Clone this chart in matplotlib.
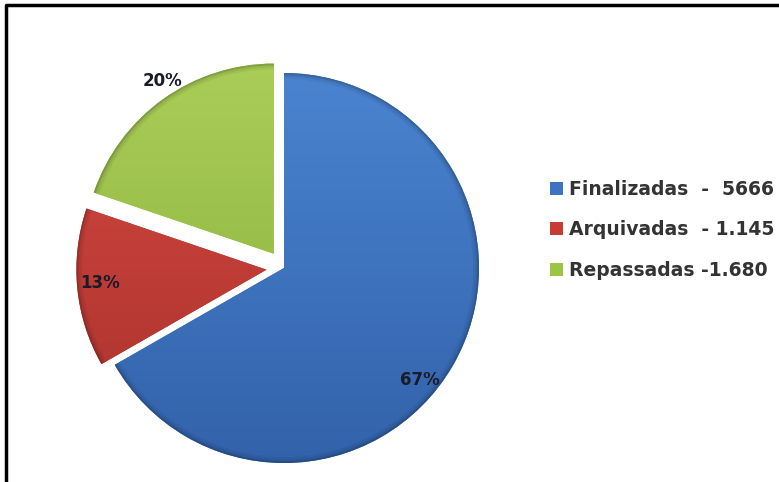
import matplotlib.pyplot as plt
from matplotlib.patches import Wedge
from matplotlib.colors import to_rgb
import numpy as np

categorias = ['Finalizadas', 'Arquivadas', 'Repassadas']
totais = [5666, 1145, 1680]
rotulos_legenda = ['Finalizadas  -  5666', 'Arquivadas  - 1.145', 'Repassadas -1.680']
cores = ['#3c74c2', '#c83a34', '#9cc445']
cores_topo = ['#4a84d0', '#d44a40', '#aacd58']
cores_base = ['#3262aa', '#a8302c', '#88b03a']
afastamento = [0.0, 0.09, 0.09]

# figure in pixel units so the pie can be placed directly
W, H = 779, 482
fig = plt.figure(figsize=(W / 100, H / 100), dpi=100)
ax = fig.add_axes([0, 0, 1, 1])

centro = (284, H - 268)
raio = 195

# explode in pie() is in data units, so scale by the radius
wedges, _ = ax.pie(totais, colors=cores, startangle=90, counterclock=False,
                   explode=[e * raio for e in afastamento], center=centro,
                   radius=raio, wedgeprops=dict(edgecolor='none'))
# pulled-out slices are drawn a bit smaller
for w, e in zip(wedges, afastamento):
    if e > 0:
        w.set_radius(raio * 0.975)
ax.set_xlim(0, W)
ax.set_ylim(0, H)
ax.set_aspect('equal')
ax.axis('off')

# vertical gradient fill clipped to each slice
for w, c1, c2 in zip(wedges, cores_topo, cores_base):
    cx, cy = w.center
    r = w.r
    t = np.linspace(0, 1, 256)[:, None]
    grad = (1 - t) * np.array(to_rgb(c1)) + t * np.array(to_rgb(c2))
    grad = grad[:, None, :]
    im = ax.imshow(grad, extent=(cx - r, cx + r, cy - r, cy + r),
                   origin='upper', aspect='auto', zorder=w.get_zorder() + 0.1)
    im.set_clip_path(w)
ax.set_xlim(0, W)
ax.set_ylim(0, H)

# soft darker rim on each slice for a bevelled look
for w in wedges:
    for k, a in zip([1.0, 0.99, 0.98], [0.22, 0.1, 0.05]):
        ax.add_patch(Wedge(w.center, w.r * k, w.theta1, w.theta2,
                           width=w.r * 0.01, facecolor='black',
                           alpha=a, edgecolor='none', zorder=3))

# percentage labels
total = sum(totais)
pos_rotulos = [(-39.5, 176), (184.6, 167), (122.8, 205)]
for w, v, (ang, d) in zip(wedges, totais, pos_rotulos):
    cx, cy = w.center
    x = cx + d * np.cos(np.radians(ang))
    y = cy + d * np.sin(np.radians(ang))
    ax.text(x, y, f'{100 * v / total:.0f}%', ha='center', va='center',
            fontsize=12, fontweight='bold', color='#1a1a2a', zorder=4)

leg = ax.legend(wedges, rotulos_legenda, loc='upper left',
                bbox_to_anchor=(533 / W, 1 - 163 / H), frameon=False,
                handlelength=0.7, handleheight=0.7, handletextpad=0.3,
                labelspacing=1.15, prop=dict(size=13.5, weight='bold'),
                labelcolor='#333333')

# outer frame
ax.plot([6, 6, W + 5], [-5, H - 5, H - 5], color='black', lw=2.5, clip_on=False)

fig.savefig('out.png', dpi=100)
